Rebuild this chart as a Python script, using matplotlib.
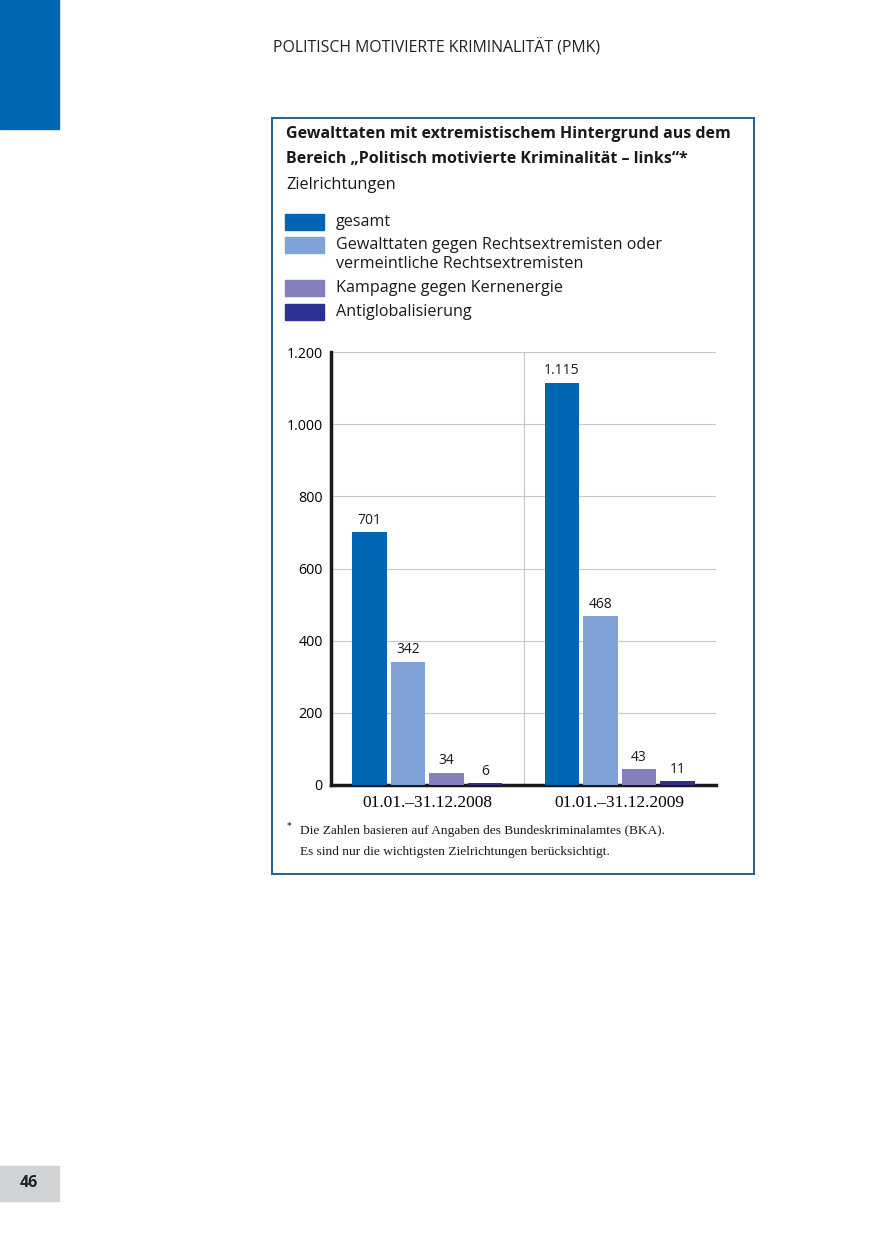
import matplotlib
matplotlib.use("Agg")
import matplotlib.pyplot as plt
from matplotlib.patches import Rectangle
import numpy as np

plt.rcParams["font.family"] = ["Open Sans", "DejaVu Sans"]

W, H = 874, 1239

# data
categories = ["01.01.–31.12.2008", "01.01.–31.12.2009"]
series_names = ["gesamt",
                "Gewalttaten gegen Rechtsextremisten oder\nvermeintliche Rechtsextremisten",
                "Kampagne gegen Kernenergie",
                "Antiglobalisierung"]
gesamt = [701, 1115]
gegen_rechts = [342, 468]
kernenergie = [34, 43]
antiglobalisierung = [6, 11]
y_ticks = [0, 200, 400, 600, 800, 1000, 1200]

series = [gesamt, gegen_rechts, kernenergie, antiglobalisierung]
colors = ["#0066b3", "#80a2d6", "#857fbd", "#2e3192"]


def fx(px):
    return px / W


def fy(py):
    return 1 - py / H


def de_num(v):
    return f"{v:,}".replace(",", ".")


fig = plt.figure(figsize=(W / 100, H / 100), dpi=100)

# page decorations
fig.patches.append(Rectangle((0, fy(129)), fx(59), 129 / H, transform=fig.transFigure,
                             color="#0066b3", zorder=0))
fig.patches.append(Rectangle((0, fy(1201)), fx(59), 35 / H, transform=fig.transFigure,
                             color="#d2d3d5", zorder=0))
fig.text(fx(29), fy(1183), "46", ha="center", va="center", fontsize=11.5,
         fontweight="bold", color="#222222")
fig.text(fx(273), fy(48), "POLITISCH MOTIVIERTE KRIMINALITÄT (PMK)", ha="left", va="center",
         fontsize=11.4, color="#222222")

# box round the chart
fig.patches.append(Rectangle((fx(272), fy(874)), fx(754 - 272), (874 - 118) / H,
                             transform=fig.transFigure, fill=False,
                             edgecolor="#1f5f96", linewidth=1.4, zorder=1))

fig.text(fx(286), fy(134), "Gewalttaten mit extremistischem Hintergrund aus dem",
         ha="left", va="center", fontsize=11.5, fontweight="bold", color="#1a1a1a")
fig.text(fx(286), fy(159), "Bereich „Politisch motivierte Kriminalität – links“*",
         ha="left", va="center", fontsize=11.5, fontweight="bold", color="#1a1a1a")
fig.text(fx(286), fy(185), "Zielrichtungen", ha="left", va="center",
         fontsize=11.8, color="#1a1a1a")

# legend
legend_rows = [222, 245, 288, 312]
for name, color, row in zip(series_names, colors, legend_rows):
    fig.patches.append(Rectangle((fx(285), fy(row + 8)), fx(39), 16 / H,
                                 transform=fig.transFigure, color=color))
    for i, line in enumerate(name.split("\n")):
        fig.text(fx(336), fy(row + 4 + 19 * i), line, ha="left", va="baseline",
                 fontsize=11.6, color="#1a1a1a")

# chart
ax = fig.add_axes([fx(331), fy(785), fx(716 - 331), (785 - 352) / H])
x = np.arange(len(categories))
width = 0.18
offsets = [-0.3, -0.1, 0.1, 0.3]
for vals, color, off in zip(series, colors, offsets):
    bars = ax.bar(x + off, vals, width=width, color=color, zorder=3)
    for b, v in zip(bars, vals):
        ax.text(b.get_x() + b.get_width() / 2, v + 12, de_num(v), ha="center",
                va="bottom", fontsize=10, color="#1a1a1a")

ax.set_xlim(-0.5, 1.5)
ax.set_ylim(0, 1200)
ax.set_yticks(y_ticks)
ax.set_yticklabels([de_num(t) for t in y_ticks])
ax.yaxis.grid(True, color="#c8c8c8", linewidth=0.8, zorder=0)
ax.axvline(0.5, color="#c8c8c8", linewidth=0.8, zorder=0)
ax.set_xticks(x)
ax.set_xticklabels(categories, family=["Liberation Serif", "DejaVu Serif"], fontsize=12.5)
ax.tick_params(axis="x", length=0, pad=7)
ax.tick_params(axis="y", length=0, pad=6, labelsize=10.3)
for s in ["top", "right"]:
    ax.spines[s].set_visible(False)
ax.spines["left"].set_linewidth(2.5)
ax.spines["bottom"].set_linewidth(2.5)
ax.spines["left"].set_color("#1a1a1a")
ax.spines["bottom"].set_color("#1a1a1a")
ax.set_facecolor("none")

# footnote
serif = ["Liberation Serif", "DejaVu Serif"]
fig.text(fx(287), fy(826), "*", ha="left", va="center", fontsize=7, family=serif)
fig.text(fx(300), fy(831), "Die Zahlen basieren auf Angaben des Bundeskriminalamtes (BKA).",
         ha="left", va="center", fontsize=9.6, family=serif, color="#1a1a1a")
fig.text(fx(300), fy(852), "Es sind nur die wichtigsten Zielrichtungen berücksichtigt.",
         ha="left", va="center", fontsize=9.6, family=serif, color="#1a1a1a")

fig.savefig("out.png", dpi=100)
